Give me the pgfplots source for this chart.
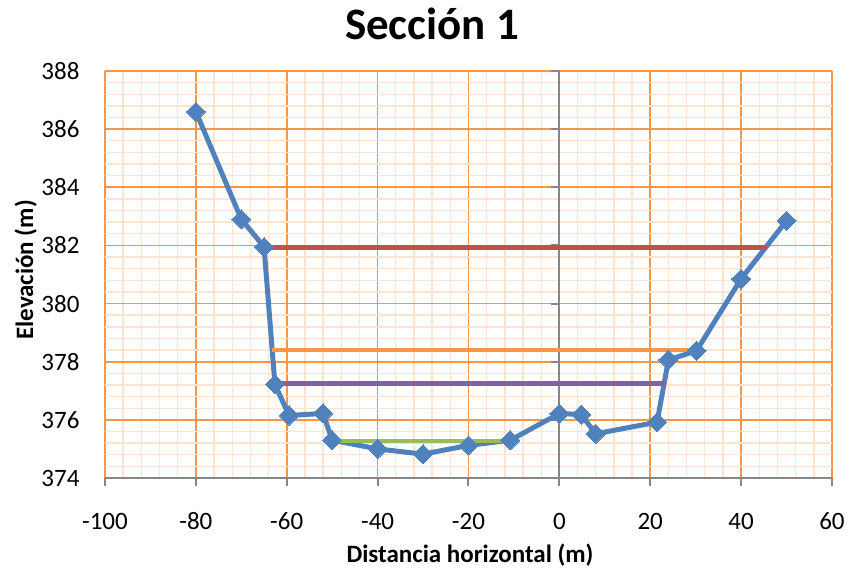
\documentclass[border=0pt]{standalone}
\usepackage{fontspec}
\setmainfont{Carlito}
\usepackage{pgfplots}
\pgfplotsset{compat=1.18}

\definecolor{terreno}{HTML}{4F81BD}
\definecolor{nivelrojo}{HTML}{C0504D}
\definecolor{nivelnaranja}{HTML}{F79646}
\definecolor{nivelmorado}{HTML}{8064A2}
\definecolor{nivelverde}{HTML}{9BBB59}
\definecolor{gridmayor}{HTML}{F79646}
\definecolor{gridmenor}{HTML}{FDE4D2}
\definecolor{ejegris}{HTML}{868686}

\begin{document}
\begin{tikzpicture}
\path[use as bounding box] (-42pt,-38pt) rectangle (299.2pt,191.2pt);
\begin{axis}[
  at={(0,0)}, anchor=south west,
  scale only axis, width=290.8pt, height=162.8pt,
  xmin=-100, xmax=60, ymin=374, ymax=388,
  xtick={-100,-80,...,60}, ytick={374,376,...,388},
  minor x tick num=4, minor y tick num=4,
  grid=both,
  grid style={line width=0.5pt},
  major grid style={color=gridmayor, line width=0.7pt},
  minor grid style={color=gridmenor, line width=0.55pt},
  axis line style={draw=none},
  major tick length=0pt, minor tick length=0pt,
  /pgf/number format/assume math mode=true,
  ticklabel style={font=\fontsize{10}{12}\selectfont},
  xticklabel style={anchor=base, yshift=-20.8pt},
  yticklabel style={anchor=east, xshift=-6.7pt},
  clip=false,
]
% ejes en gris: horizontal abajo y vertical en x = 0
\draw[ejegris, line width=0.8pt] (axis cs:-100,374) -- (axis cs:60,374);
\draw[ejegris, line width=0.8pt] (axis cs:0,374) -- (axis cs:0,388);
\pgfplotsinvokeforeach{-100,-80,-60,-40,-20,0,20,40,60}{
  \draw[ejegris, line width=0.8pt] (axis cs:#1,374) -- ([yshift=-3.4pt]axis cs:#1,374);
}
\pgfplotsinvokeforeach{374,376,378,380,382,384,386,388}{
  \draw[ejegris, line width=0.8pt] (axis cs:0,#1) -- ([xshift=-3.4pt]axis cs:0,#1);
}

% perfil del terreno
\addplot[terreno, line width=2pt, mark=square*,
  mark options={rotate=45, line width=0pt, fill=terreno, draw=terreno},
  mark size=2.7pt] coordinates {
  (-80,386.6) (-70,382.9) (-65,381.95) (-62.6,377.22) (-59.5,376.15)
  (-52,376.22) (-50,375.3) (-40,375.0) (-30,374.82) (-20,375.12)
  (-10.8,375.3) (0,376.22) (4.8,376.18) (8,375.52) (21.5,375.92)
  (24,378.06) (30.2,378.38) (40,380.85) (50,382.85)
};
% niveles de agua
\addplot[nivelrojo, line width=1.9pt] coordinates {(-65,381.92) (45.6,381.92)};
\addplot[nivelnaranja, line width=1.9pt] coordinates {(-63.2,378.4) (30.3,378.4)};
\addplot[nivelmorado, line width=1.9pt] coordinates {(-62.6,377.24) (23.3,377.24)};
\addplot[nivelverde, line width=1.9pt] coordinates {(-49.5,375.27) (-10,375.27)};
\end{axis}
\node[anchor=base, font=\fontsize{18}{22}\selectfont\bfseries] at (130.8pt,175.2pt) {Sección 1};
\node[anchor=base, font=\fontsize{10}{12}\selectfont\bfseries] at (146pt,-33.8pt) {Distancia horizontal (m)};
\node[anchor=base, rotate=90, font=\fontsize{10}{12}\selectfont\bfseries] at (-28.8pt,83.2pt) {Elevación (m)};
\end{tikzpicture}
\end{document}
